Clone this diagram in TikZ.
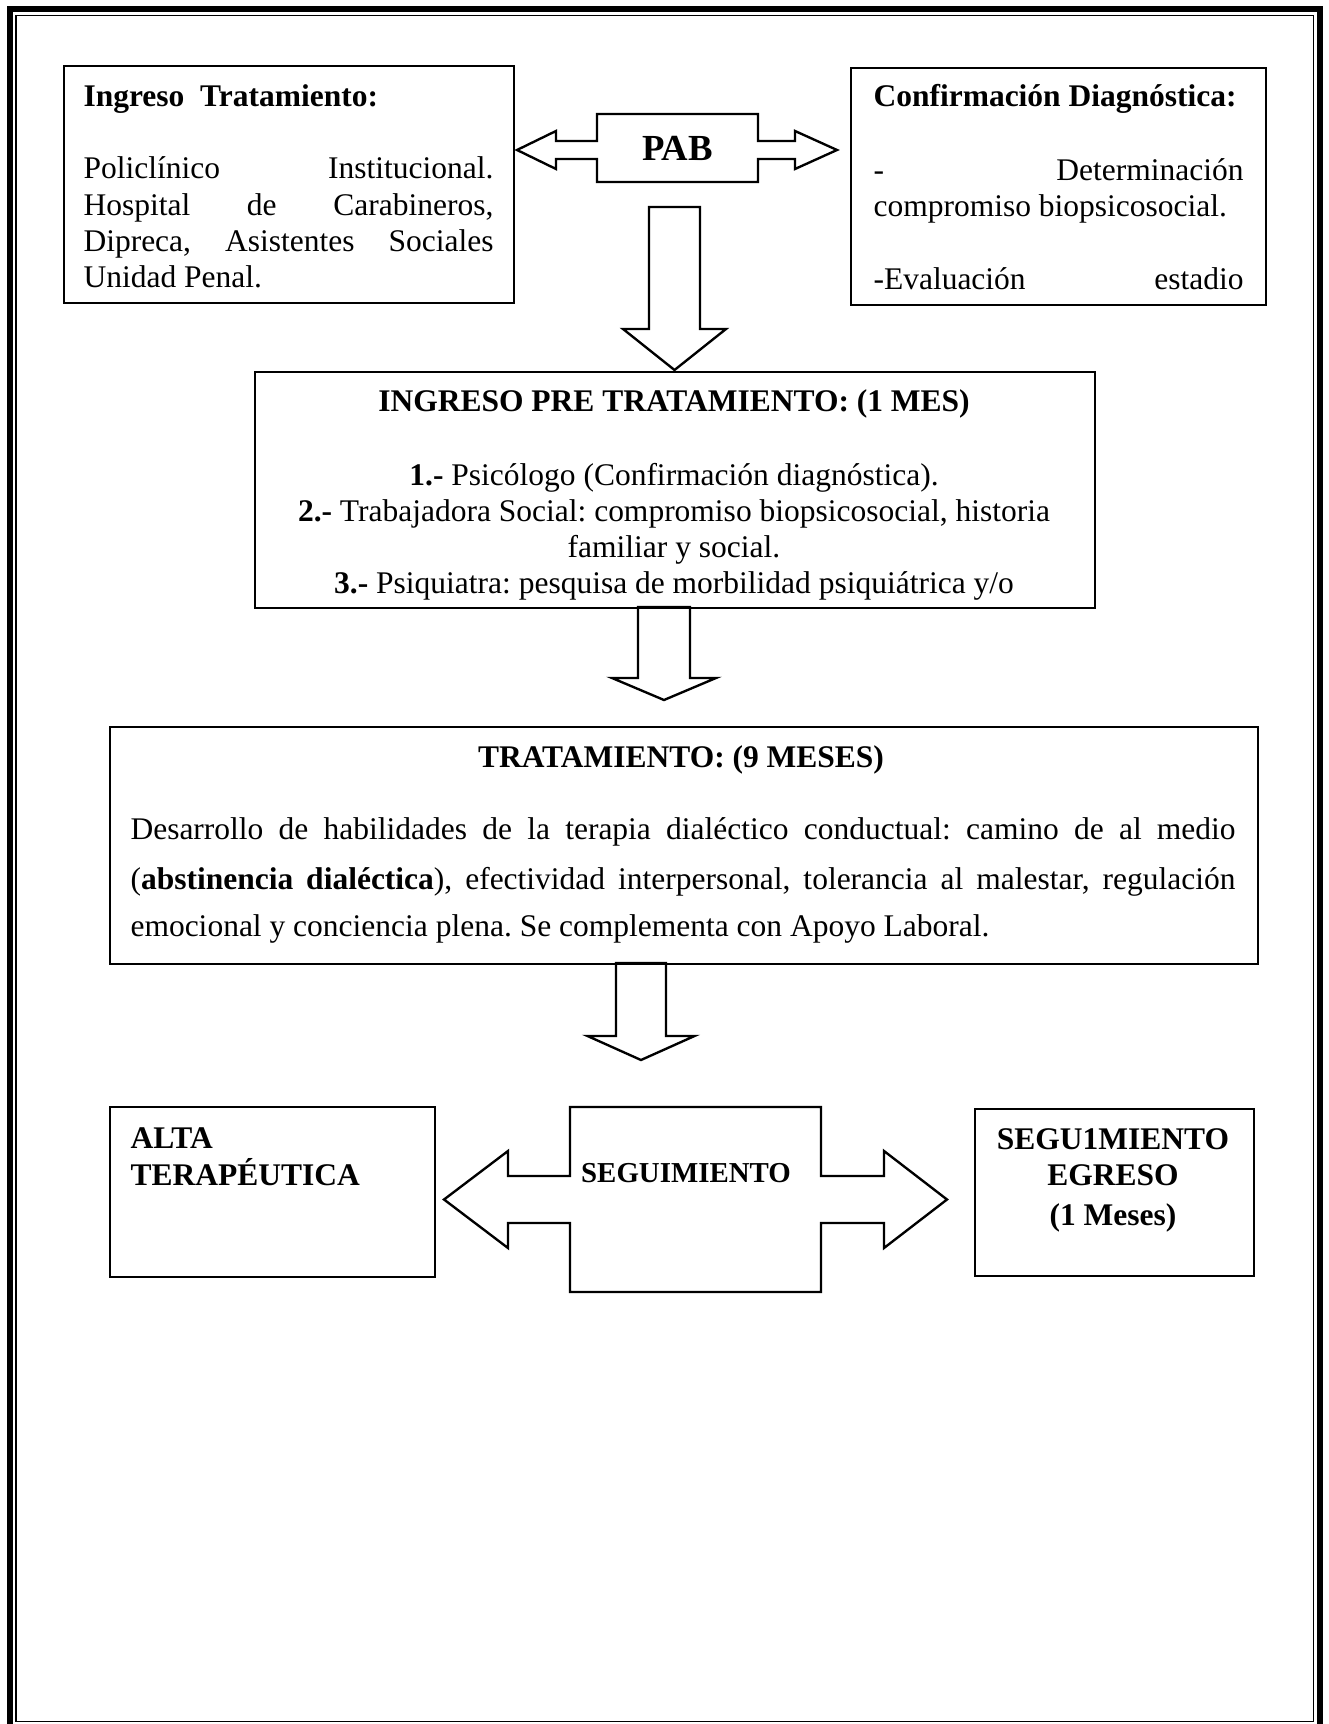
\documentclass[tikz,border=0pt]{standalone}
\usepackage{fontspec}
\setmainfont{Liberation Serif}
\frenchspacing
\newdimen\pu \pu=0.381pt
\newcommand\jl[2]{\hbox to #1\pu{#2}}
\newcommand\fatdown[6]{\draw[fat] (#1-#5,#2) -- (#1+#5,#2) -- (#1+#5,#3) -- (#1+#6,#3) -- (#1,#4) -- (#1-#6,#3) -- (#1-#5,#3) -- cycle;}
\tikzset{
  box/.style={draw, line width=0.9pt, rectangle, inner sep=0pt, anchor=north west},
  fat/.style={draw, line width=0.9pt, line join=miter},
  txt/.style={inner sep=0pt, anchor=base west, font=\fontsize{12}{14}\selectfont},
  ctxt/.style={txt, anchor=base},
}
\begin{document}
\begin{tikzpicture}[x=0.381pt, y=-0.381pt]
\useasboundingbox (0,0) rectangle (1328,1724);
% page frame
\draw[line width=6\pu] (10,9) rectangle (1320,1730);
\draw[line width=1.6\pu] (16,15.5) -- (16,1721.5) -- (1313.5,1721.5) -- (1313.5,15.5) -- cycle;

% boxes
\node[box, minimum width=450\pu, minimum height=237\pu] (ingreso) at (63,65) {};
\node[box, minimum width=415\pu, minimum height=237\pu] (confirm) at (850,67) {};
\node[box, minimum width=840\pu, minimum height=236\pu] (pre) at (254,371) {};
\node[box, minimum width=1148\pu, minimum height=237\pu] (trat) at (109,726) {};
\node[box, minimum width=325\pu, minimum height=170\pu] (alta) at (109,1106) {};
\node[box, minimum width=279\pu, minimum height=167\pu] (egreso) at (974,1108) {};

% PAB double arrow
\draw[fat] (597,114) -- (758,114) -- (758,141) -- (795,141) -- (795,131) -- (837,150)
  -- (795,169) -- (795,159) -- (758,159) -- (758,182) -- (597,182) -- (597,159)
  -- (556,159) -- (556,169) -- (517,150) -- (556,131) -- (556,141) -- (597,141) -- cycle;
\node[ctxt, font=\fontsize{14}{16}\selectfont\bfseries] (pab) at (677.5,161) {PAB};

% SEGUIMIENTO double arrow
\draw[fat] (570,1107) -- (821,1107) -- (821,1176) -- (884,1176) -- (884,1151) -- (947,1199.5)
  -- (884,1248) -- (884,1223) -- (821,1223) -- (821,1292) -- (570,1292) -- (570,1223)
  -- (508,1223) -- (508,1248) -- (444,1199.5) -- (508,1151) -- (508,1176) -- (570,1176) -- cycle;
\node[ctxt, font=\fontsize{11}{13}\selectfont\bfseries] (seg) at (686,1182) {SEGUIMIENTO};

% down arrows
\fatdown{674.5}{207}{329}{370}{25.5}{51.5}
\fatdown{664}{607}{678}{700}{26}{52}
\fatdown{641}{963}{1036}{1060}{25}{53.5}

% Ingreso Tratamiento
\node[txt, font=\fontsize{12}{14}\selectfont\bfseries] (a0) at (83,107) {Ingreso~~Tratamiento:};
\node[txt] (a1) at (83,179) {\jl{410}{Policlínico\hfill Institucional.}};
\node[txt] (a2) at (83,215.5) {\jl{410}{Hospital\hfill de\hfill Carabineros,}};
\node[txt] (a3) at (83,252) {\jl{410}{Dipreca,\hfill Asistentes\hfill Sociales}};
\node[txt] (a4) at (83,288) {Unidad Penal.};

% Confirmacion
\node[txt, font=\fontsize{12}{14}\selectfont\bfseries] (c0) at (873,107) {Confirmación Diagnóstica:};
\node[txt] (c1) at (873,181) {\jl{370}{-\hfill Determinación}};
\node[txt] (c2) at (873,216.5) {compromiso biopsicosocial.};
\node[txt] (c3) at (873,290) {\jl{370}{-Evaluación\hfill estadio}};

% Pre tratamiento
\node[ctxt, font=\fontsize{12}{14}\selectfont\bfseries] (p0) at (674,412) {INGRESO PRE TRATAMIENTO: (1 MES)};
\node[ctxt] (p1) at (674,485.5) {\textbf{1.-} Psicólogo (Confirmación diagnóstica).};
\node[ctxt] (p2) at (674,521.5) {\textbf{2.-} Trabajadora Social: compromiso biopsicosocial, historia};
\node[ctxt] (p3) at (674,557) {familiar y social.};
\node[ctxt] (p4) at (674,593.5) {\textbf{3.-} Psiquiatra: pesquisa de morbilidad psiquiátrica y/o};

% Tratamiento
\node[ctxt, font=\fontsize{12}{14}\selectfont\bfseries] (t0) at (681,767) {TRATAMIENTO: (9 MESES)};
\node[txt] (t1) at (130,839.5) {\jl{1105}{Desarrollo de habilidades de la terapia dialéctico conductual: camino de al medio}};
\node[txt] (t2) at (130,889.5) {\jl{1105}{(\textbf{abstinencia dialéctica}), efectividad interpersonal, tolerancia al malestar, regulación}};
\node[txt] (t3) at (130,936.5) {emocional y conciencia plena. Se complementa con Apoyo Laboral.};

% bottom row
\node[txt, font=\fontsize{12}{14}\selectfont\bfseries] (d1) at (130,1148) {ALTA};
\node[txt, font=\fontsize{12}{14}\selectfont\bfseries] (d2) at (130,1185) {TERAPÉUTICA};
\node[ctxt, font=\fontsize{12}{14}\selectfont\bfseries] (f1) at (1113,1149) {SEGU1MIENTO};
\node[ctxt, font=\fontsize{12}{14}\selectfont\bfseries] (f2) at (1113,1185) {EGRESO};
\node[ctxt, font=\fontsize{12}{14}\selectfont\bfseries] (f3) at (1113,1225) {(1 Meses)};
\end{tikzpicture}
\end{document}
